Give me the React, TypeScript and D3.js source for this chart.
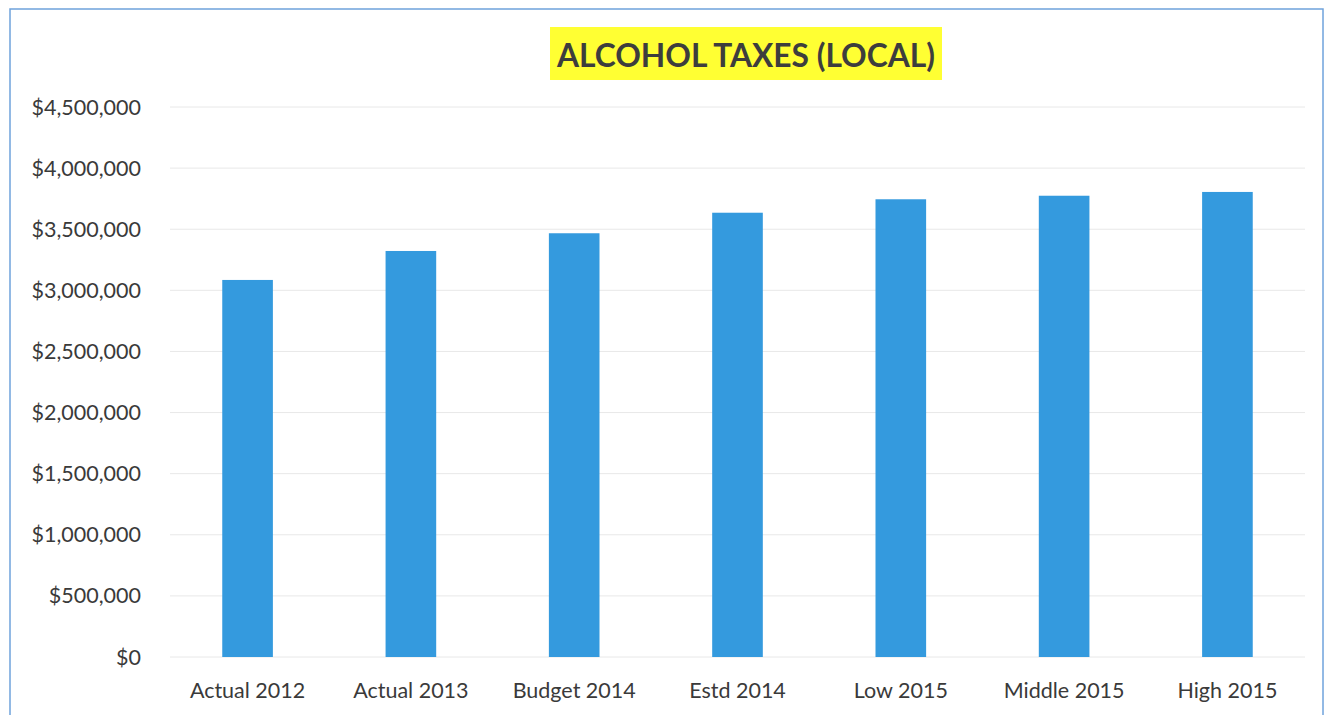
import React from "react";
import * as d3 from "d3";

const categories = ["Actual 2012", "Actual 2013", "Budget 2014", "Estd 2014", "Low 2015", "Middle 2015", "High 2015"];
const values = [3085000, 3322000, 3467000, 3635000, 3745000, 3774000, 3805000];
const yTicks = [0, 500000, 1000000, 1500000, 2000000, 2500000, 3000000, 3500000, 4000000, 4500000];
const title = "ALCOHOL TAXES (LOCAL)";

const W = 1326;
const H = 715;
const margin = { left: 170, right: 21, top: 107, bottom: 58 };

export default function App() {
  const x = d3
    .scaleBand<string>()
    .domain(categories)
    .range([margin.left, W - margin.right])
    .paddingInner(0.69)
    .paddingOuter(0.32);
  const y = d3.scaleLinear().domain([0, 4500000]).range([H - margin.bottom, margin.top]);
  const fmt = (v: number) => "$" + d3.format(",")(v);
  const font = "Lato, 'Open Sans', sans-serif";

  return (
    <svg
      width={W}
      height={H}
      style={{ position: "absolute", left: 0, top: 0, background: "#fff" }}
    >
      <rect x={10} y={9} width={1313} height={720} fill="none" stroke="#6fa3dc" strokeWidth={1.5} />
      <rect x={550} y={27} width={392} height={53} fill="#ffff33" />
      <text
        x={746}
        y={67}
        textAnchor="middle"
        fontFamily={font}
        fontWeight={700}
        fontSize={32}
        fill="#3d3d3d"
        textLength={378}
        lengthAdjust="spacingAndGlyphs"
      >
        {title}
      </text>
      {yTicks.map((t) => (
        <g key={t}>
          <line x1={margin.left} x2={W - margin.right} y1={y(t)} y2={y(t)} stroke="#e8e8e8" strokeWidth={1} />
          <text
            x={141}
            y={y(t)}
            dy="0.35em"
            textAnchor="end"
            fontFamily={font}
            fontSize={21.5}
            fill="#3a3a3a"
          >
            {fmt(t)}
          </text>
        </g>
      ))}
      {categories.map((c, i) => (
        <rect
          key={c}
          x={x(c)}
          y={y(values[i])}
          width={x.bandwidth()}
          height={y(0) - y(values[i])}
          fill="#349ade"
        />
      ))}
      {categories.map((c) => (
        <text
          key={c}
          x={(x(c) as number) + x.bandwidth() / 2}
          y={698}
          textAnchor="middle"
          fontFamily={font}
          fontSize={21.5}
          fill="#3a3a3a"
        >
          {c}
        </text>
      ))}
    </svg>
  );
}
